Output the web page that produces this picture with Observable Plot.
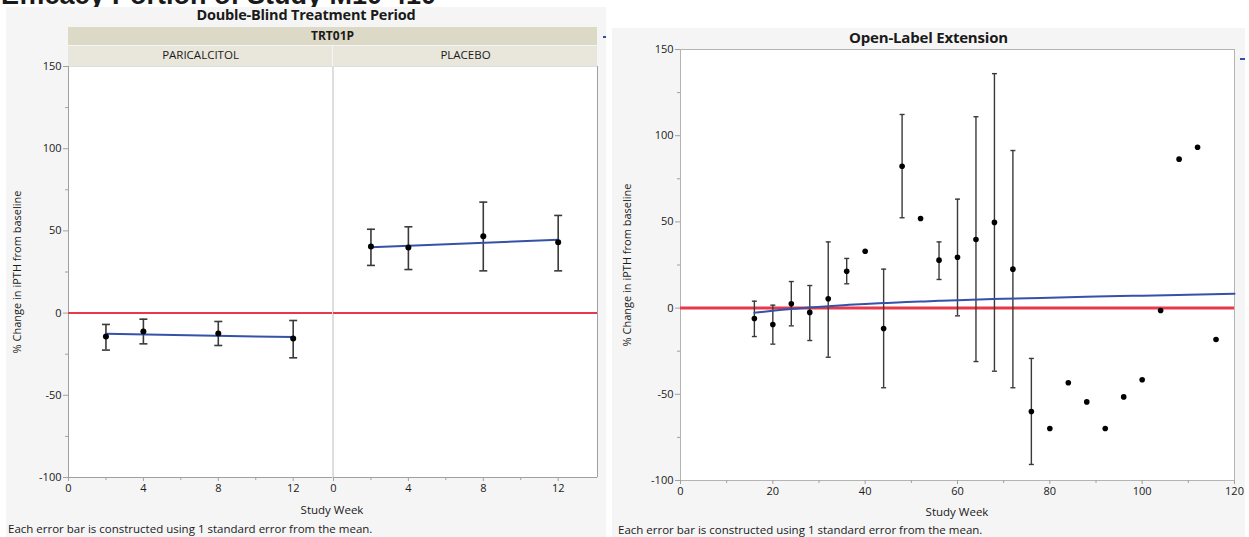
<!DOCTYPE html>
<html>
<head>
<meta charset="utf-8">
<script src="https://cdn.jsdelivr.net/npm/d3@7"></script>
<script src="https://cdn.jsdelivr.net/npm/@observablehq/plot@0.6"></script>
<style>
  html, body { margin: 0; padding: 0; background: #ffffff; }
  #page { position: relative; width: 1249px; height: 537px; overflow: hidden; font-family: "Open Sans", Lato, sans-serif; color: #1a1a1a; }
  .abs { position: absolute; }
  .bg { background: #f5f5f5; }
  .title { font-weight: bold; line-height: 16px; text-align: center; white-space: nowrap; letter-spacing: -0.2px; }
  .small { font-size: 11.5px; line-height: 13px; white-space: nowrap; }
  .strip1 { background: #dcd9c7; font-weight: bold; font-size: 12px; text-align: center; line-height: 18px; }
  .strip2 { background: #e9e7dc; }
  svg { position: absolute; }
</style>
</head>
<body>
<div id="page">
  <div class="abs" id="bigTitle" style="left:1px; top:-18px; font-family:'Liberation Sans', Arial, sans-serif; font-weight:bold; font-size:27px; line-height:27px; white-space:nowrap;">Efficacy Portion of Study M10-410</div>
  <div class="abs bg" style="left:6px; top:7px; width:600px; height:530px;"></div>
  <div class="abs bg" style="left:612px; top:28px; width:633px; height:509px;"></div>
  <div class="abs title" style="left:6px; top:7px; width:600px; font-size:14.5px;">Double-Blind Treatment Period</div>
  <div class="abs title" style="left:612px; top:29px; width:633px; font-size:15px;">Open-Label Extension</div>
  <div id="stripLayer"></div>
  <div id="leftHolder"></div>
  <div id="rightHolder"></div>
  <div class="abs small" style="left:232px; top:503px; width:200px; text-align:center;">Study Week</div>
  <div class="abs small" style="left:857px; top:505px; width:200px; text-align:center;">Study Week</div>
  <div class="abs small" style="left:8px; top:522px;">Each error bar is constructed using 1 standard error from the mean.</div>
  <div class="abs small" style="left:618px; top:523px;">Each error bar is constructed using 1 standard error from the mean.</div>
  <div class="abs" style="left:603px; top:36px; width:3px; height:2px; background:#3050a8;"></div>
  <div class="abs" style="left:1240px; top:58px; width:5px; height:2px; background:#3050a8;"></div>
</div>
<script>
// ---------- Data ----------
const treatments = ["PARICALCITOL", "PLACEBO"];
const dbWeeks = [2, 4, 8, 12];
const paricalcitolMean = [-14.2, -11.2, -12.4, -15.4];
const paricalcitolLow  = [-22.5, -18.7, -19.7, -27.2];
const paricalcitolHigh = [-6.9, -3.7, -5.1, -4.5];
const placeboMean = [40.5, 39.9, 46.8, 43.1];
const placeboLow  = [29.0, 26.5, 25.7, 25.7];
const placeboHigh = [51.0, 52.5, 67.5, 59.4];
const dbFitWeeks = [2, 12];
const paricalcitolFit = [-12.6, -14.6];
const placeboFit = [40.1, 44.6];

const oleWeeks = [16, 20, 24, 28, 32, 36, 40, 44, 48, 52, 56, 60, 64, 68, 72, 76, 80, 84, 88, 92, 96, 100, 104, 108, 112, 116];
const oleMean  = [-6.0, -9.5, 2.5, -2.5, 5.4, 21.4, 33.0, -11.8, 82.3, 52.0, 27.8, 29.5, 39.8, 49.7, 22.6, -60.0, -69.8, -43.3, -54.4, -69.8, -51.5, -41.6, -1.4, 86.4, 93.3, -18.2];
const oleLow   = [-16.5, -20.9, -10.3, -18.8, -28.5, 14.1, null, -46.2, 52.4, null, 16.6, -4.5, -31.0, -36.6, -46.2, -90.7, null, null, null, null, null, null, null, null, null, null];
const oleHigh  = [4.0, 1.7, 15.4, 13.1, 38.4, 28.8, null, 22.6, 112.3, null, 38.4, 63.2, 111.0, 136.0, 91.4, -29.2, null, null, null, null, null, null, null, null, null, null];
const oleFitWeeks = [16, 20, 24, 28, 32, 36, 40, 44, 48, 52, 56, 60, 70, 80, 90, 100, 110, 120];
const oleFit      = [-2.7, -1.5, -0.5, 0.3, 1.1, 1.8, 2.4, 2.9, 3.4, 3.8, 4.2, 4.6, 5.4, 6.0, 6.7, 7.2, 7.8, 8.3];

const yDomain = [-100, 150];
const yTicks = [-100, -50, 0, 50, 100, 150];
const yMinorTicks = [-75, -25, 25, 75, 125];
const dbXDomain = [0, 14.1];
const dbXTicks = [0, 4, 8, 12];
const dbXMinorTicks = [2, 6, 10];
const oleXDomain = [0, 120];
const oleXTicks = [0, 20, 40, 60, 80, 100, 120];
const oleXMinorTicks = [10, 30, 50, 70, 90, 110];

const yLabel = "% Change in iPTH from baseline";

// ---------- Tables ----------
const dbRows = [
  ...dbWeeks.map((w, i) => ({trt: treatments[0], week: w, mean: paricalcitolMean[i], low: paricalcitolLow[i], high: paricalcitolHigh[i]})),
  ...dbWeeks.map((w, i) => ({trt: treatments[1], week: w, mean: placeboMean[i], low: placeboLow[i], high: placeboHigh[i]}))
];
const dbFitRows = [
  ...dbFitWeeks.map((w, i) => ({trt: treatments[0], week: w, value: paricalcitolFit[i]})),
  ...dbFitWeeks.map((w, i) => ({trt: treatments[1], week: w, value: placeboFit[i]}))
];
const oleRows = oleWeeks.map((w, i) => ({week: w, mean: oleMean[i], low: oleLow[i], high: oleHigh[i]}));
const oleBarRows = oleRows.filter(d => d.low != null);
const oleFitRows = oleFitWeeks.map((w, i) => ({week: w, value: oleFit[i]}));
// outer borders of the faceted panel: left edge of first facet, right edge of last facet
const dbEdges = [
  {trt: treatments[0], x: dbXDomain[0]},
  {trt: treatments[treatments.length - 1], x: dbXDomain[1]}
];

// ---------- Styles ----------
const RED = "#e8394a";
const BLUE = "#3552a8";
const BAR = "#3a3a3a";
const AXIS = "#a0a0a0";
const TXT = "#1a1a1a";
const fmt = d => `${d}`; // plain hyphen-minus, as in the reference
const capSymbol = {draw(ctx, size) { const w = Math.sqrt(size / Math.PI); ctx.moveTo(-w, 0); ctx.lineTo(w, 0); }};
const fontStyle = {fontFamily: "'Open Sans', Lato, sans-serif", fontSize: "11px", background: "transparent", color: TXT, overflow: "visible"};

// ---------- Left (faceted) chart ----------
const leftChart = Plot.plot({
  width: 606, height: 537,
  marginLeft: 68, marginRight: 9, marginTop: 66, marginBottom: 60,
  style: fontStyle,
  fx: {domain: treatments, paddingInner: 0.004, paddingOuter: 0, label: null},
  x: {domain: dbXDomain},
  y: {domain: yDomain},
  marks: [
    Plot.frame({fill: "white", stroke: "#dedede"}),
    Plot.ruleY([yDomain[0]], {stroke: AXIS}),
    Plot.ruleX(dbEdges, {fx: "trt", x: "x", stroke: AXIS}),
    Plot.ruleY([0], {stroke: RED, strokeWidth: 2}),
    Plot.ruleX(dbRows, {fx: "trt", x: "week", y1: "low", y2: "high", stroke: BAR, strokeWidth: 1.6}),
    Plot.dot(dbRows, {fx: "trt", x: "week", y: "low", symbol: capSymbol, r: 4, stroke: BAR, strokeWidth: 1.6}),
    Plot.dot(dbRows, {fx: "trt", x: "week", y: "high", symbol: capSymbol, r: 4, stroke: BAR, strokeWidth: 1.6}),
    Plot.line(dbFitRows, {fx: "trt", x: "week", y: "value", z: "trt", stroke: BLUE, strokeWidth: 2}),
    Plot.dot(dbRows, {fx: "trt", x: "week", y: "mean", fill: "black", r: 3}),
    Plot.axisY({ticks: yTicks, tickFormat: fmt, tickSize: 5, tickPadding: 2, stroke: AXIS, fill: TXT, label: yLabel, labelArrow: "none", labelAnchor: "center", labelOffset: 55}),
    Plot.axisY({ticks: yMinorTicks, tickSize: 3, stroke: AXIS, tickFormat: () => "", label: null}),
    Plot.axisX({ticks: dbXTicks, tickFormat: fmt, tickSize: 4, tickPadding: 3, stroke: AXIS, fill: TXT, label: null}),
    Plot.axisX({ticks: dbXMinorTicks, tickSize: 3, stroke: AXIS, tickFormat: () => "", label: null}),
    Plot.axisFx({anchor: "top", tickSize: 0, tickPadding: 8, label: null, fontSize: 11.5})
  ]
});
leftChart.style.left = "0px";
leftChart.style.top = "0px";
document.getElementById("leftHolder").appendChild(leftChart);

// strip backgrounds placed from the fx scale
const fxScale = leftChart.scale("fx");
const stripLayer = document.getElementById("stripLayer");
const stripStart = fxScale.apply(treatments[0]);
const stripEnd = fxScale.apply(treatments[treatments.length - 1]) + fxScale.bandwidth;
const outerStrip = document.createElement("div");
outerStrip.className = "abs strip1";
outerStrip.style.cssText = `left:${stripStart}px; top:27px; width:${stripEnd - stripStart}px; height:18px;`;
outerStrip.textContent = "TRT01P";
stripLayer.appendChild(outerStrip);
treatments.forEach(t => {
  const d = document.createElement("div");
  d.className = "abs strip2";
  d.style.cssText = `left:${fxScale.apply(t)}px; top:46px; width:${fxScale.bandwidth}px; height:20px;`;
  stripLayer.appendChild(d);
});

// ---------- Right chart ----------
const rightChart = Plot.plot({
  width: 633, height: 537,
  marginLeft: 68, marginRight: 11, marginTop: 49, marginBottom: 57,
  style: fontStyle,
  x: {domain: oleXDomain},
  y: {domain: yDomain},
  marks: [
    Plot.frame({fill: "white", stroke: "#b4b4b4"}),
    Plot.ruleY([0], {stroke: RED, strokeWidth: 3}),
    Plot.ruleX(oleBarRows, {x: "week", y1: "low", y2: "high", stroke: BAR, strokeWidth: 1.4}),
    Plot.dot(oleBarRows, {x: "week", y: "low", symbol: capSymbol, r: 2.5, stroke: BAR, strokeWidth: 1.4}),
    Plot.dot(oleBarRows, {x: "week", y: "high", symbol: capSymbol, r: 2.5, stroke: BAR, strokeWidth: 1.4}),
    Plot.line(oleFitRows, {x: "week", y: "value", stroke: BLUE, strokeWidth: 2, curve: "natural"}),
    Plot.dot(oleRows, {x: "week", y: "mean", fill: "black", r: 2.8}),
    Plot.axisY({ticks: yTicks, tickFormat: fmt, tickSize: 5, tickPadding: 2, stroke: AXIS, fill: TXT, label: yLabel, labelArrow: "none", labelAnchor: "center", labelOffset: 57}),
    Plot.axisY({ticks: yMinorTicks, tickSize: 3, stroke: AXIS, tickFormat: () => "", label: null}),
    Plot.axisX({ticks: oleXTicks, tickFormat: fmt, tickSize: 4, tickPadding: 3, stroke: AXIS, fill: TXT, label: null}),
    Plot.axisX({ticks: oleXMinorTicks, tickSize: 3, stroke: AXIS, tickFormat: () => "", label: null})
  ]
});
rightChart.style.left = "612px";
rightChart.style.top = "0px";
document.getElementById("rightHolder").appendChild(rightChart);
</script>
</body>
</html>
